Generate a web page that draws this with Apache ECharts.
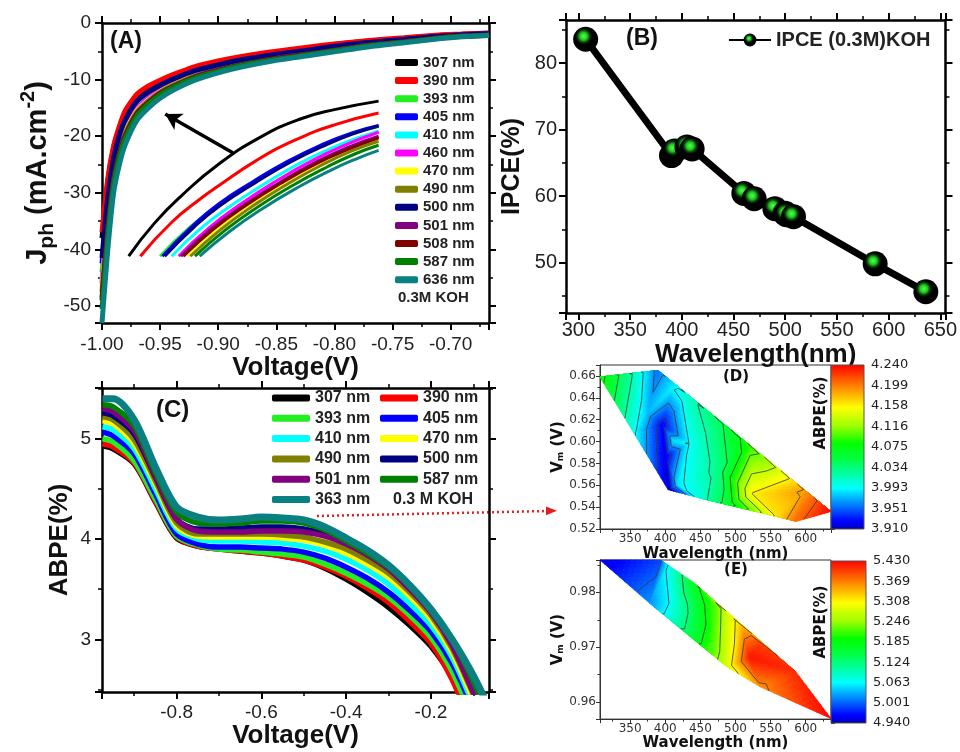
<!DOCTYPE html>
<html>
<head>
<meta charset="utf-8">
<script src="https://cdn.jsdelivr.net/npm/echarts@6/dist/echarts.min.js"></script>
<style>html,body{margin:0;padding:0;background:#fff}#main{width:960px;height:752px}</style>
</head>
<body>
<div id="main"></div>
<script>
var FA = "'Liberation Sans', Arial, sans-serif";
var FD = "'DejaVu Sans', sans-serif";

// ---- (A) photocurrent vs voltage ----
var namesA = ['307 nm','390 nm','393 nm','405 nm','410 nm','460 nm','470 nm','490 nm','500 nm','501 nm','508 nm','587 nm','636 nm'];
var colorsA = ['#000000','#ff0000','#22ee22','#0000ff','#00ffff','#ff00ff','#ffff00','#808000','#000080','#800080','#800000','#008000','#0b8080'];
var vA = [-1.0,-0.995,-0.99,-0.985,-0.98,-0.97,-0.96,-0.95,-0.94,-0.92,-0.9,-0.88,-0.85,-0.82,-0.8,-0.77,-0.74,-0.71,-0.69,-0.667];
var j307 = [-38,-28,-22,-18.5,-15.8,-12.8,-11.3,-10.3,-9.4,-7.9,-6.9,-6.1,-5.2,-4.4,-3.8,-3.2,-2.7,-2.2,-2.0,-1.8];
var j390 = [-37,-27.5,-21.7,-18.2,-15.5,-12.6,-11.1,-10.1,-9.2,-7.7,-6.7,-5.9,-5.0,-4.2,-3.7,-3.1,-2.6,-2.1,-1.95,-1.75];
var j393 = [-44,-32.8,-25.2,-20.6,-17.9,-14.5,-12.8,-11.5,-10.5,-8.8,-7.7,-6.8,-5.8,-4.9,-4.3,-3.6,-3.0,-2.45,-2.15,-1.95];
var j405 = [-42.5,-31.6,-24.4,-20.1,-17.4,-14.1,-12.4,-11.2,-10.2,-8.6,-7.5,-6.6,-5.6,-4.8,-4.2,-3.5,-2.9,-2.4,-2.1,-1.9];
var j410 = [-45.5,-34,-26,-21.8,-18.7,-15,-13.2,-11.8,-10.7,-9.0,-7.9,-7.0,-5.9,-5.1,-4.5,-3.7,-3.1,-2.5,-2.2,-2.0];
var j460 = [-46,-34.4,-26.3,-22,-18.9,-15.2,-13.3,-11.9,-10.8,-9.1,-8.0,-7.05,-6.0,-5.1,-4.5,-3.75,-3.1,-2.5,-2.2,-2.0];
var j470 = [-47,-35.2,-26.8,-22.4,-19.2,-15.5,-13.6,-12.1,-11,-9.3,-8.1,-7.2,-6.1,-5.2,-4.6,-3.8,-3.2,-2.55,-2.25,-2.05];
var j490 = [-47.5,-35.6,-27.1,-22.6,-19.5,-15.7,-13.7,-12.2,-11.1,-9.4,-8.2,-7.3,-6.15,-5.3,-4.7,-3.85,-3.25,-2.6,-2.3,-2.1];
var j500 = [-41.5,-30.8,-23.9,-19.8,-17.1,-13.8,-12.2,-11.0,-10.0,-8.4,-7.4,-6.5,-5.5,-4.7,-4.1,-3.45,-2.9,-2.35,-2.1,-1.9];
var j501 = [-48.5,-36.4,-27.6,-23.0,-19.9,-16,-14,-12.4,-11.3,-9.5,-8.3,-7.4,-6.2,-5.4,-4.8,-3.9,-3.3,-2.6,-2.3,-2.1];
var j508 = [-49,-36.8,-27.9,-23.2,-20.1,-16.1,-14.1,-12.5,-11.4,-9.6,-8.4,-7.45,-6.3,-5.45,-4.85,-3.95,-3.35,-2.65,-2.35,-2.15];
var j587 = [-50.5,-37.6,-28.4,-23.6,-20.4,-16.4,-14.3,-12.7,-11.5,-9.7,-8.5,-7.5,-6.4,-5.5,-4.9,-4.0,-3.4,-2.7,-2.35,-2.15];
var j636 = [-53,-40,-30,-25,-21.5,-17.2,-15,-13.3,-12,-10.1,-8.8,-7.8,-6.6,-5.7,-5.1,-4.2,-3.5,-2.8,-2.45,-2.2];
var jA = [j307,j390,j393,j405,j410,j460,j470,j490,j500,j501,j508,j587,j636];

// zoomed inset curves drawn inside panel A
var in307 = [[-0.977,-41.2],[-0.955,-35.4],[-0.931,-30.4],[-0.9,-25.0],[-0.864,-20.2],[-0.83,-17.0],[-0.8,-15.3],[-0.762,-13.8]];
var in390 = [[-0.967,-41.2],[-0.94,-35.2],[-0.915,-31.0],[-0.9,-28.8],[-0.868,-24.4],[-0.835,-20.8],[-0.8,-18.0],[-0.762,-15.9]];
var in393 = [[-0.95,-41.2],[-0.925,-36.2],[-0.9,-32.3],[-0.87,-28.3],[-0.84,-24.6],[-0.81,-21.6],[-0.785,-19.6],[-0.762,-18.3]];
var in405 = [[-0.948,-41.2],[-0.923,-36.0],[-0.9,-32.0],[-0.87,-28.0],[-0.84,-24.4],[-0.81,-21.4],[-0.785,-19.4],[-0.762,-18.1]];
var in410 = [[-0.94,-41.2],[-0.915,-36.3],[-0.89,-32.4],[-0.86,-28.4],[-0.83,-24.8],[-0.8,-21.9],[-0.78,-20.3],[-0.762,-19.1]];
var in460 = [[-0.934,-41.2],[-0.908,-36.2],[-0.88,-31.9],[-0.85,-27.9],[-0.82,-24.4],[-0.79,-21.5],[-0.762,-19.3]];
var in470 = [[-0.926,-41.2],[-0.9,-36.4],[-0.872,-32.1],[-0.842,-28.1],[-0.812,-24.7],[-0.785,-22.1],[-0.762,-20.4]];
var in490 = [[-0.924,-41.2],[-0.898,-36.5],[-0.87,-32.3],[-0.84,-28.4],[-0.81,-25.0],[-0.785,-22.6],[-0.762,-20.9]];
var in500 = [[-0.946,-41.2],[-0.921,-36.1],[-0.898,-32.2],[-0.868,-28.2],[-0.838,-24.6],[-0.808,-21.6],[-0.784,-19.6],[-0.762,-18.2]];
var in501 = [[-0.932,-41.2],[-0.906,-36.4],[-0.878,-32.2],[-0.848,-28.3],[-0.818,-24.8],[-0.79,-22.1],[-0.762,-20.0]];
var in508 = [[-0.93,-41.2],[-0.904,-36.4],[-0.876,-32.2],[-0.846,-28.3],[-0.816,-24.9],[-0.788,-22.3],[-0.762,-20.3]];
var in587 = [[-0.92,-41.2],[-0.894,-36.6],[-0.866,-32.5],[-0.836,-28.7],[-0.806,-25.4],[-0.782,-23.1],[-0.762,-21.6]];
var in636 = [[-0.916,-41.2],[-0.89,-36.8],[-0.862,-32.8],[-0.832,-29.1],[-0.802,-25.9],[-0.78,-23.9],[-0.762,-22.5]];
var inA = [in307,in390,in393,in405,in410,in460,in470,in490,in500,in501,in508,in587,in636];
var arrowA = [[-0.8875,-22.94],[-0.9456,-16.07]];

// ---- (B) IPCE ----
var wlB = [307,390,393,405,410,460,470,490,500,501,508,587,636];
var ipceB = [83.6,66.1,66.8,67.4,67.1,60.4,59.6,58.1,57.4,57.2,56.9,49.8,45.6];

// ---- (C) ABPE vs voltage ----
var namesC = ['307 nm','390 nm','393 nm','405 nm','410 nm','470 nm','490 nm','500 nm','501 nm','587 nm','363 nm'];
var colorsC = ['#000000','#ff0000','#22ee22','#0000ff','#00ffff','#ffff00','#808000','#000080','#800080','#008000','#0b8080'];
var vC = [-0.975,-0.95,-0.9,-0.85,-0.8,-0.75,-0.7,-0.65,-0.6,-0.55,-0.5,-0.45,-0.4,-0.35,-0.3,-0.25,-0.2,-0.15,-0.1,-0.05];
var a307 = [4.93,4.90,4.75,4.37,4.01,3.93,3.90,3.88,3.86,3.83,3.79,3.71,3.60,3.47,3.32,3.14,2.93,2.62,2.15,1.6];
var a390 = [4.95,4.92,4.76,4.38,4.02,3.93,3.90,3.88,3.86,3.83,3.79,3.72,3.63,3.51,3.37,3.18,2.96,2.60,2.1,1.6];
var a393 = [5.00,4.97,4.78,4.40,4.03,3.94,3.90,3.89,3.87,3.85,3.82,3.75,3.66,3.55,3.42,3.24,3.02,2.68,2.2,1.7];
var a405 = [5.07,5.03,4.85,4.45,4.05,3.95,3.92,3.92,3.91,3.90,3.87,3.81,3.72,3.61,3.47,3.29,3.08,2.76,2.3,1.8];
var a410 = [5.12,5.09,4.90,4.50,4.10,4.00,3.98,3.98,3.97,3.96,3.93,3.88,3.80,3.69,3.55,3.36,3.14,2.82,2.35,1.85];
var a470 = [5.18,5.15,4.95,4.55,4.13,4.03,4.02,4.02,4.02,4.01,3.99,3.94,3.86,3.75,3.62,3.43,3.20,2.87,2.4,1.9];
var a490 = [5.22,5.19,4.99,4.58,4.16,4.05,4.05,4.05,4.05,4.04,4.02,3.97,3.90,3.79,3.66,3.47,3.24,2.91,2.45,1.95];
var a500 = [5.26,5.23,5.05,4.62,4.20,4.10,4.10,4.11,4.12,4.12,4.10,4.05,3.96,3.85,3.72,3.52,3.28,2.95,2.48,2.0];
var a501 = [5.30,5.27,5.08,4.63,4.20,4.08,4.07,4.07,4.08,4.08,4.07,4.03,3.95,3.84,3.70,3.50,3.27,2.94,2.47,2.0];
var a587 = [5.34,5.32,5.13,4.67,4.27,4.16,4.15,4.16,4.18,4.18,4.16,4.09,3.98,3.86,3.72,3.53,3.30,3.00,2.58,2.1];
var a363 = [5.40,5.40,5.19,4.72,4.32,4.22,4.19,4.20,4.22,4.21,4.19,4.12,4.01,3.89,3.74,3.54,3.30,3.00,2.64,2.2];
var aC = [a307,a390,a393,a405,a410,a470,a490,a500,a501,a587,a363];

// ---- (D) ABPE map at the plateau ----
var wlD = [307,350,375,355,390,396,400,404,410,412,418,430,435,445,480,475,490,520,525,550,560,587,600,636];
var vmD = [0.659,0.662,0.625,0.608,0.665,0.615,0.585,0.556,0.648,0.600,0.560,0.642,0.598,0.549,0.617,0.575,0.543,0.595,0.552,0.580,0.532,0.527,0.554,0.536];
var abD = [4.085,4.025,3.975,3.997,3.955,3.925,3.918,3.912,3.99,3.986,3.986,4.008,3.995,4.0,4.045,4.03,4.06,4.09,4.16,4.12,4.165,4.205,4.19,4.24];
var cbD = ['3.910','3.951','3.993','4.034','4.075','4.116','4.158','4.199','4.240'];

// ---- (E) ABPE map at the peak ----
var wlE = [307,393,378,405,410,426,440,460,474,488,507,520,535,535,586,636];
var vmE = [0.9859,0.9859,0.978,0.9849,0.978,0.9735,0.9818,0.974,0.9776,0.9664,0.9741,0.968,0.9705,0.9628,0.9655,0.957];
var abE = [4.95,4.99,5.02,5.07,5.07,5.12,5.17,5.19,5.23,5.28,5.33,5.42,5.40,5.36,5.41,5.43];
var cbE = ['4.940','5.001','5.063','5.124','5.185','5.246','5.308','5.369','5.430'];

var ramp = [[0,'#000030'],[0.015,'#0000d8'],[0.05,'#0000ff'],[0.25,'#00ffff'],[0.43,'#00ff40'],[0.52,'#00ff00'],[0.63,'#a0ff00'],[0.74,'#ffff00'],[0.87,'#ff8000'],[1,'#ff0000']];

function hex2rgb(h) { return [parseInt(h.substr(1,2),16), parseInt(h.substr(3,2),16), parseInt(h.substr(5,2),16)]; }
function rampColor(t) {
    t = Math.max(0, Math.min(1, t));
    for (var i = 1; i < ramp.length; i++) {
        if (t <= ramp[i][0]) {
            var f = (t - ramp[i-1][0]) / (ramp[i][0] - ramp[i-1][0]);
            var a = hex2rgb(ramp[i-1][1]), b = hex2rgb(ramp[i][1]);
            return 'rgb(' + Math.round(a[0]+(b[0]-a[0])*f) + ',' + Math.round(a[1]+(b[1]-a[1])*f) + ',' + Math.round(a[2]+(b[2]-a[2])*f) + ')';
        }
    }
    return ramp[ramp.length-1][1];
}

// Bowyer-Watson triangulation on scaled coordinates
function triangulate(xs, ys, sx, sy) {
    var n = xs.length, p = [];
    for (var i = 0; i < n; i++) p.push([xs[i]*sx, ys[i]*sy]);
    var cx = 0, cy = 0;
    p.forEach(function (q) { cx += q[0]/n; cy += q[1]/n; });
    var d = 1e5;
    p.push([cx-d, cy-d], [cx+d, cy-d], [cx, cy+d]);
    function inC(t, q) {
        var a = p[t[0]], b = p[t[1]], c = p[t[2]];
        var ax=a[0]-q[0], ay=a[1]-q[1], bx=b[0]-q[0], by=b[1]-q[1], cx2=c[0]-q[0], cy2=c[1]-q[1];
        var det = (ax*ax+ay*ay)*(bx*cy2-cx2*by) - (bx*bx+by*by)*(ax*cy2-cx2*ay) + (cx2*cx2+cy2*cy2)*(ax*by-bx*ay);
        var o = (b[0]-a[0])*(c[1]-a[1]) - (b[1]-a[1])*(c[0]-a[0]);
        return o > 0 ? det > 0 : det < 0;
    }
    var tris = [[n, n+1, n+2]];
    for (var k = 0; k < n; k++) {
        var bad = [], keep = [];
        tris.forEach(function (t) { (inC(t, p[k]) ? bad : keep).push(t); });
        var edges = [];
        bad.forEach(function (t) {
            [[t[0],t[1]],[t[1],t[2]],[t[2],t[0]]].forEach(function (e) {
                var shared = bad.some(function (o) {
                    return o !== t && o.indexOf(e[0]) >= 0 && o.indexOf(e[1]) >= 0;
                });
                if (!shared) edges.push(e);
            });
        });
        tris = keep.concat(edges.map(function (e) { return [e[0], e[1], k]; }));
    }
    return tris.filter(function (t) { return t[0] < n && t[1] < n && t[2] < n; });
}

function triData(xs, ys, vs, sx, sy) {
    return triangulate(xs, ys, sx, sy).map(function (t) {
        var r = [];
        t.forEach(function (i) { r.push(xs[i], ys[i], vs[i]); });
        return r;
    });
}

function contourItem(lo, hi, nLev) {
    var levels = [];
    for (var l = 1; l < nLev; l++) levels.push(lo + (hi - lo) * l / nLev);
    return function (params, api) {
        var P = [], V = [];
        for (var k = 0; k < 3; k++) {
            P.push(api.coord([api.value(3*k), api.value(3*k+1)]));
            V.push(api.value(3*k+2));
        }
        var kids = [], N = 10;
        function pt(a, b) {
            return [P[0][0] + (P[1][0]-P[0][0])*a/N + (P[2][0]-P[0][0])*b/N,
                    P[0][1] + (P[1][1]-P[0][1])*a/N + (P[2][1]-P[0][1])*b/N];
        }
        function val(a, b) { return V[0] + (V[1]-V[0])*a/N + (V[2]-V[0])*b/N; }
        function tri(p1, p2, p3, v) {
            var c = rampColor((v - lo) / (hi - lo));
            kids.push({type: 'polygon', shape: {points: [p1, p2, p3]}, style: {fill: c, stroke: c, lineWidth: 0.8}});
        }
        for (var a = 0; a < N; a++) {
            for (var b = 0; a + b < N; b++) {
                tri(pt(a,b), pt(a+1,b), pt(a,b+1), (val(a,b)+val(a+1,b)+val(a,b+1))/3);
                if (a + b + 2 <= N) tri(pt(a+1,b), pt(a+1,b+1), pt(a,b+1), (val(a+1,b)+val(a+1,b+1)+val(a,b+1))/3);
            }
        }
        levels.forEach(function (L) {
            var seg = [];
            [[0,1],[1,2],[2,0]].forEach(function (e) {
                var v0 = V[e[0]], v1 = V[e[1]];
                if ((v0 - L) * (v1 - L) < 0) {
                    var t = (L - v0) / (v1 - v0);
                    seg.push([P[e[0]][0] + (P[e[1]][0]-P[e[0]][0])*t, P[e[0]][1] + (P[e[1]][1]-P[e[0]][1])*t]);
                }
            });
            if (seg.length === 2) {
                kids.push({type: 'line', z2: 10, shape: {x1: seg[0][0], y1: seg[0][1], x2: seg[1][0], y2: seg[1][1]},
                    style: {stroke: '#3a3a3a', lineWidth: 0.8}});
            }
        });
        return {type: 'group', children: kids};
    };
}

function barItem(params, api) {
    var p0 = api.coord([0, 0]), p1 = api.coord([1, 8]);
    var stops = ramp.map(function (s) { return {offset: s[0], color: s[1]}; });
    return {type: 'rect', shape: {x: p0[0], y: p1[1], width: p1[0]-p0[0], height: p0[1]-p1[1]},
        style: {fill: new echarts.graphic.LinearGradient(0, 1, 0, 0, stops), stroke: '#555', lineWidth: 1}};
}

function frame(gi, pos, lim, split, o) {
    return {
        type: 'value', gridIndex: gi, position: pos, min: lim[0], max: lim[1], splitNumber: split,
        axisLine: {show: true, onZero: false, lineStyle: {color: '#000', width: 2.5}},
        axisTick: {show: true, length: 7, lineStyle: {color: '#000', width: 2}},
        minorTick: {show: true, splitNumber: 2, length: 4, lineStyle: {color: '#000', width: 1.5}},
        splitLine: {show: false},
        axisLabel: {show: o.show, fontFamily: FA, fontSize: o.size || 19, color: '#222', margin: o.margin || 10,
            formatter: o.fmt, showMinLabel: !!o.minLab, showMaxLabel: !!o.maxLab},
        name: o.name, nameLocation: 'middle', nameGap: o.gap,
        nameTextStyle: o.nameStyle || {fontFamily: FA, fontSize: 26, fontWeight: 'bold', color: '#111'}
    };
}
function small(gi, pos, lim, o) {
    return {
        type: 'value', gridIndex: gi, position: pos, min: lim[0], max: lim[1], splitNumber: o.split, interval: o.interval,
        axisLine: {show: true, onZero: false, lineStyle: {color: '#333', width: 1}},
        axisTick: {show: true, length: 4, lineStyle: {color: '#333', width: 1}},
        minorTick: {show: true, splitNumber: 2, length: 2.5, lineStyle: {color: '#333', width: 1}},
        splitLine: {show: false},
        axisLabel: {fontFamily: FD, fontSize: 12, color: '#333', margin: o.margin, formatter: o.fmt,
            showMinLabel: !!o.minLab, showMaxLabel: false},
        name: o.name, nameLocation: 'middle', nameGap: o.gap,
        nameTextStyle: {fontFamily: FD, fontSize: 15, fontWeight: 'bold', color: '#111',
            rich: {b: {fontFamily: FD, fontSize: 15, fontWeight: 'bold', color: '#111'},
                   s: {fontFamily: FD, fontSize: 9, fontWeight: 'bold', color: '#111', verticalAlign: 'bottom', lineHeight: 9}}}
    };
}
function cbAxis(gi, labels) {
    return {
        type: 'value', gridIndex: gi, position: 'right', min: 0, max: 8, interval: 1,
        axisLine: {show: false}, splitLine: {show: false},
        axisTick: {show: true, length: 4, lineStyle: {color: '#333'}},
        axisLabel: {fontFamily: FD, fontSize: 13, color: '#222', margin: 7, formatter: function (v) { return labels[v]; }}
    };
}
var fmt0 = function (v) { return String(Math.round(v)); };
var fmt2 = function (v) { return v.toFixed(2); };

var series = [];
namesA.forEach(function (nm, i) {
    series.push({
        name: nm, type: 'line', xAxisIndex: 0, yAxisIndex: 0, symbol: 'none', smooth: 0.2,
        data: vA.map(function (v, k) { return [v, jA[i][k]]; }),
        lineStyle: {color: colorsA[i], width: 5}, itemStyle: {color: colorsA[i]},
        markLine: i === 0 ? {silent: true, symbol: ['none', 'arrow'], symbolSize: [14, 16], label: {show: false},
            lineStyle: {color: '#000', width: 3.5, type: 'solid'},
            data: [[{coord: arrowA[0]}, {coord: arrowA[1]}]]} : undefined
    });
});
inA.forEach(function (d, i) {
    series.push({
        name: namesA[i] + ' (zoom)', type: 'line', xAxisIndex: 0, yAxisIndex: 0, symbol: 'none', smooth: true,
        data: d, lineStyle: {color: colorsA[i], width: 3}, itemStyle: {color: colorsA[i]}
    });
});
series.push({
    name: 'IPCE (0.3M)KOH', type: 'line', xAxisIndex: 2, yAxisIndex: 2,
    data: wlB.map(function (w, i) { return [w, ipceB[i]]; }),
    symbol: 'circle', symbolSize: 25,
    lineStyle: {color: '#000', width: 7},
    itemStyle: {color: new echarts.graphic.RadialGradient(0.42, 0.38, 0.6, [
        {offset: 0, color: '#55ff55'}, {offset: 0.25, color: '#1fc81f'}, {offset: 0.42, color: '#0a3a0a'}, {offset: 0.55, color: '#000'}, {offset: 1, color: '#000'}])}
});
namesC.forEach(function (nm, i) {
    series.push({
        name: nm, type: 'line', xAxisIndex: 4, yAxisIndex: 4, symbol: 'none', smooth: 0.3,
        data: vC.map(function (v, k) { return [v, aC[i][k]]; }),
        lineStyle: {color: colorsC[i], width: i === 10 ? 7 : 5.5}, itemStyle: {color: colorsC[i]}
    });
});
series.push({
    name: 'mapD', type: 'custom', xAxisIndex: 6, yAxisIndex: 6,
    data: triData(wlD, vmD, abD, 231 / 329, 164 / 0.15), renderItem: contourItem(3.91, 4.24, 12)
});
series.push({
    name: 'mapE', type: 'custom', xAxisIndex: 7, yAxisIndex: 7,
    data: triData(wlE, vmE, abE, 231 / 329, 163 / 0.029), renderItem: contourItem(4.94, 5.43, 8)
});
series.push({name: 'barD', type: 'custom', xAxisIndex: 8, yAxisIndex: 8, data: [[0, 0]], renderItem: barItem});
series.push({name: 'barE', type: 'custom', xAxisIndex: 9, yAxisIndex: 9, data: [[0, 0]], renderItem: barItem});

var legText = {fontFamily: FA, fontSize: 15, fontWeight: 'bold', color: '#222', lineHeight: 15};
var legC = {fontFamily: FA, fontSize: 16, fontWeight: 'bold', color: '#222', lineHeight: 16};

var option = {
    animation: false,
    textStyle: {fontFamily: FA},
    grid: [
        {left: 102, top: 23, width: 387, height: 300},
        {left: 566, top: 20, width: 382, height: 293},
        {left: 102, top: 388, width: 387, height: 304},
        {left: 600, top: 365, width: 231, height: 164, show: true, borderColor: '#333', borderWidth: 1},
        {left: 600, top: 560, width: 231, height: 163, show: true, borderColor: '#333', borderWidth: 1},
        {left: 831, top: 365, width: 33, height: 164},
        {left: 831, top: 561, width: 35, height: 162}
    ],
    xAxis: [
        frame(0, 'bottom', [-1.0, -0.667], 7, {show: true, margin: 12, minLab: true, name: 'Voltage(V)', gap: 26, fmt: fmt2}),
        frame(0, 'top', [-1.0, -0.667], 7, {show: false}),
        frame(1, 'bottom', [288, 655], 7, {show: true, size: 20, margin: 7, name: 'Wavelength(nm)', gap: 29}),
        frame(1, 'top', [288, 655], 7, {show: false}),
        frame(2, 'bottom', [-0.976, -0.063], 5, {show: true, margin: 11, name: 'Voltage(V)', gap: 29,
            fmt: function (v) { return v.toFixed(1); }}),
        frame(2, 'top', [-0.976, -0.063], 5, {show: false}),
        small(3, 'bottom', [307, 636], {split: 6, margin: 4, name: 'Wavelength (nm)', gap: 18, fmt: fmt0}),
        small(4, 'bottom', [307, 636], {split: 6, margin: 4, name: 'Wavelength (nm)', gap: 15, fmt: fmt0}),
        {type: 'value', gridIndex: 5, min: 0, max: 1, show: false},
        {type: 'value', gridIndex: 6, min: 0, max: 1, show: false}
    ],
    yAxis: [
        frame(0, 'left', [-53, 0], 5, {show: true, margin: 11, maxLab: true, gap: 44,
            name: '{b|J}{s|ph}{b| (mA.cm}{p|-2}{b|)}',
            nameStyle: {rich: {
                b: {fontFamily: FA, fontSize: 29, fontWeight: 'bold', color: '#111', lineHeight: 40},
                s: {fontFamily: FA, fontSize: 21, fontWeight: 'bold', color: '#111', lineHeight: 15, verticalAlign: 'bottom'},
                p: {fontFamily: FA, fontSize: 20, fontWeight: 'bold', color: '#111', lineHeight: 15, verticalAlign: 'top'}}}}),
        frame(0, 'right', [-53, 0], 5, {show: false}),
        frame(1, 'left', [42.4, 86.5], 4, {show: true, size: 20, margin: 9, name: 'IPCE(%)', gap: 41,
            nameStyle: {fontFamily: FA, fontSize: 25, fontWeight: 'bold', color: '#111'}}),
        frame(1, 'right', [42.4, 86.5], 4, {show: false}),
        frame(2, 'left', [2.475, 5.507], 3, {show: true, margin: 11, name: 'ABPE(%)', gap: 29}),
        frame(2, 'right', [2.475, 5.507], 3, {show: false}),
        small(3, 'left', [0.52, 0.67], {interval: 0.02, minLab: true, margin: 4, name: '{b|V}{s|m}{b| (V)}', gap: 30, fmt: fmt2}),
        small(4, 'left', [0.9569, 0.9859], {split: 3, margin: 4, name: '{b|V}{s|m}{b| (V)}', gap: 30, fmt: fmt2}),
        cbAxis(5, cbD),
        cbAxis(6, cbE)
    ],
    legend: [
        {data: namesA, orient: 'vertical', left: 395, top: 55, padding: 0, itemWidth: 23, itemHeight: 7, itemGap: 3.1,
            icon: 'roundRect', selectedMode: false, textStyle: legText},
        {data: ['IPCE (0.3M)KOH'], left: 728, top: 30, padding: 0, itemWidth: 42, itemHeight: 16, itemGap: 3, selectedMode: false,
            textStyle: {fontFamily: FA, fontSize: 20, fontWeight: 'bold', color: '#222'}},
        {data: ['307 nm','393 nm','410 nm','490 nm','501 nm','363 nm'], orient: 'vertical', left: 272, top: 390, padding: 0,
            itemWidth: 38, itemHeight: 7, itemGap: 4.3, icon: 'roundRect', selectedMode: false, textStyle: legC},
        {data: ['390 nm','405 nm','470 nm','500 nm','587 nm'], orient: 'vertical', left: 380, top: 390, padding: 0,
            itemWidth: 38, itemHeight: 7, itemGap: 4.3, icon: 'roundRect', selectedMode: false, textStyle: legC}
    ],
    graphic: [
        {type: 'text', x: 110, y: 42, style: {text: '(A)', font: 'bold 23px ' + FA, fill: '#111', verticalAlign: 'middle'}},
        {type: 'text', x: 626, y: 39, style: {text: '(B)', font: 'bold 23px ' + FA, fill: '#111', verticalAlign: 'middle'}},
        {type: 'text', x: 156, y: 410, style: {text: '(C)', font: 'bold 24px ' + FA, fill: '#111', verticalAlign: 'middle'}},
        {type: 'text', x: 736, y: 377, style: {text: '(D)', font: 'bold 15px ' + FD, fill: '#111', align: 'center', verticalAlign: 'middle'}},
        {type: 'text', x: 736, y: 570, style: {text: '(E)', font: 'bold 15px ' + FD, fill: '#111', align: 'center', verticalAlign: 'middle'}},
        {type: 'text', x: 398, y: 298, style: {text: '0.3M KOH', font: 'bold 15px ' + FA, fill: '#222', verticalAlign: 'middle'}},
        {type: 'text', x: 393, y: 500, style: {text: '0.3 M KOH', font: 'bold 16px ' + FA, fill: '#222', verticalAlign: 'middle'}},
        {type: 'text', x: 821, y: 413, rotation: Math.PI / 2, style: {text: 'ABPE(%)', font: 'bold 15px ' + FD, fill: '#111', align: 'center', verticalAlign: 'middle'}},
        {type: 'text', x: 821, y: 622, rotation: Math.PI / 2, style: {text: 'ABPE(%)', font: 'bold 15px ' + FD, fill: '#111', align: 'center', verticalAlign: 'middle'}},
        {type: 'polyline', shape: {points: [[317, 516], [548, 511]]}, style: {stroke: '#e02020', lineWidth: 2.5, lineDash: [2, 3], fill: null}},
        {type: 'polygon', shape: {points: [[546, 506.5], [557, 510.8], [546, 515.2]]}, style: {fill: '#e02020'}}
    ],
    series: series
};

var chart = echarts.init(document.getElementById('main'));
chart.setOption(option);
</script>
</body>
</html>
